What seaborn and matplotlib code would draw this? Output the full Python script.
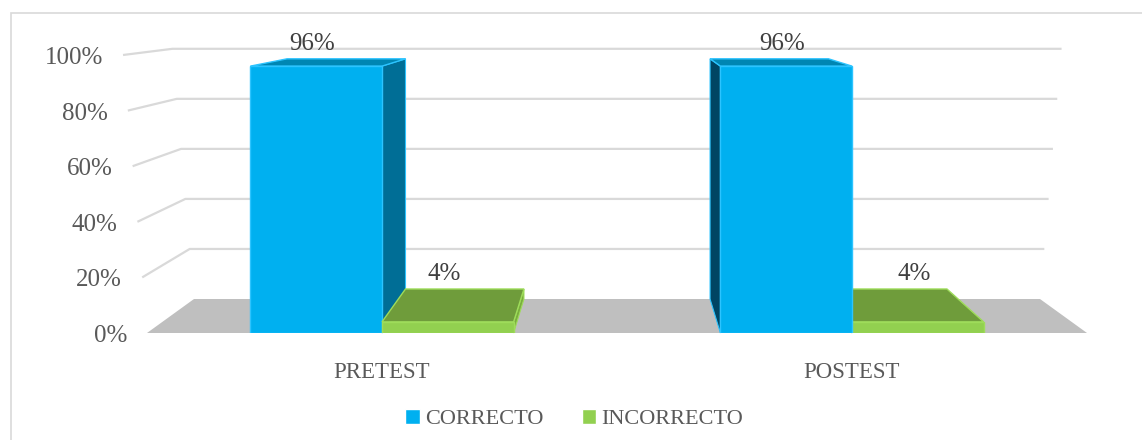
import numpy as np
import pandas as pd
import matplotlib
matplotlib.use("Agg")
import matplotlib.pyplot as plt
from matplotlib.patches import Polygon, Rectangle
import seaborn as sns

# datos del grafico
pruebas = ["PRETEST", "POSTEST"]
respuestas = ["CORRECTO", "INCORRECTO"]
correcto = [96, 96]
incorrecto = [4, 4]
yticks = [0, 20, 40, 60, 80, 100]

colores = {"CORRECTO": "#00B0F0", "INCORRECTO": "#92D050"}
lados = {"CORRECTO": ("#006E96", "#004563"), "INCORRECTO": ("#7AAE3E", "#7AAE3E")}
techos = {"CORRECTO": "#0086B3", "INCORRECTO": "#6F9C3B"}
bordes = {"CORRECTO": "#2CC4FF", "INCORRECTO": "#9EDC5A"}
texto = "#595959"

df = pd.DataFrame({
    "prueba": pruebas * 2,
    "respuesta": [respuestas[0]] * 2 + [respuestas[1]] * 2,
    "valor": correcto + incorrecto,
})

sns.set_style("white")
plt.rcParams["font.family"] = ["Liberation Serif", "DejaVu Serif"]

fig = plt.figure(figsize=(11.42, 4.40), dpi=100)
ax = fig.add_axes([147 / 1142, 107 / 440, 940 / 1142, 278 / 440])

sns.barplot(data=df, x="prueba", y="valor", hue="respuesta", order=pruebas,
            hue_order=respuestas, palette=colores, width=0.56, saturation=1,
            ax=ax)
ax.set_xlim(-0.5, 1.5)
ax.set_ylim(0, 100)

# perspectiva simple: punto de fuga y profundidad
xv, yv, prof = 0.5, 122.3, 0.1


def P(x, y, z):
    return (x + (xv - x) * prof * z, y + (yv - y) * prof * z)


def conv(x, y):
    return xv + (x - xv) * (1 + 0.00051 * y)


# rejilla en la pared del fondo
for v in yticks[1:]:
    a = (conv(-0.5, v), v)
    b = P(conv(-0.5, v), v, 1)
    c = P(conv(1.5, v), v, 1)
    ax.plot([a[0], b[0], c[0]], [a[1], b[1], c[1]], color="#D9D9D9", lw=1.6,
            zorder=0.5, clip_on=False, solid_capstyle="butt")

for v in yticks:
    ax.annotate(f"{v}%", (conv(-0.5, v), v), xytext=(-20, -3),
                textcoords="offset pixels", ha="right", va="center",
                fontsize=18, color=texto, annotation_clip=False)

# piso
piso = [P(-0.5, 0, 0), P(1.5, 0, 0), P(1.5, 0, 1), P(-0.5, 0, 1)]
ax.add_patch(Polygon(piso, closed=True, facecolor="#BFBFBF", edgecolor="none",
                     zorder=0.8, clip_on=False))

# caras laterales y superiores de cada barra
for resp, cont in zip(respuestas, ax.containers):
    for barra in cont:
        x0 = barra.get_x()
        x1 = x0 + barra.get_width()
        h = barra.get_height()
        centro = (x0 + x1) / 2
        z = 5 - abs(centro - xv)
        barra.set_zorder(z + 0.01)
        barra.set_edgecolor(bordes[resp])
        barra.set_linewidth(1)
        techo = [P(x0, h, 0), P(x1, h, 0), P(x1, h, 1), P(x0, h, 1)]
        ax.add_patch(Polygon(techo, closed=True, facecolor=techos[resp],
                             edgecolor=bordes[resp], lw=1, zorder=z,
                             clip_on=False))
        if centro < xv:
            xs, col = x1, lados[resp][0]
        else:
            xs, col = x0, lados[resp][1]
        lado = [P(xs, 0, 0), P(xs, h, 0), P(xs, h, 1), P(xs, 0, 1)]
        ax.add_patch(Polygon(lado, closed=True, facecolor=col,
                             edgecolor=bordes[resp], lw=0.8, zorder=z - 0.005,
                             clip_on=False))
        ax.annotate(f"{h:.0f}%", (centro, P(centro, h, 1)[1]), xytext=(-4, 15),
                    textcoords="offset pixels", ha="center", va="center",
                    fontsize=18, color="#404040", annotation_clip=False,
                    zorder=10)

sns.despine(ax=ax, left=True, bottom=True)
ax.set_yticks([])
ax.set_xlabel("")
ax.set_ylabel("")
ax.tick_params(axis="x", length=0, pad=21, labelsize=16.5, labelcolor=texto)
ax.patch.set_alpha(0)

handles, labels = ax.get_legend_handles_labels()
ax.get_legend().remove()
fig.legend(handles, labels, loc="center", bbox_to_anchor=(0.503, 0.047),
           ncol=2, frameon=False, fontsize=16, labelcolor=texto,
           handlelength=0.65, handleheight=0.65, handletextpad=0.25,
           columnspacing=1.7)

fig.add_artist(Rectangle((10.5 / 1142, -0.1), 1.2, (427 / 440) + 0.1,
                         transform=fig.transFigure, fill=False,
                         edgecolor="#D9D9D9", lw=1.2))

fig.savefig("out.png", dpi=100)
